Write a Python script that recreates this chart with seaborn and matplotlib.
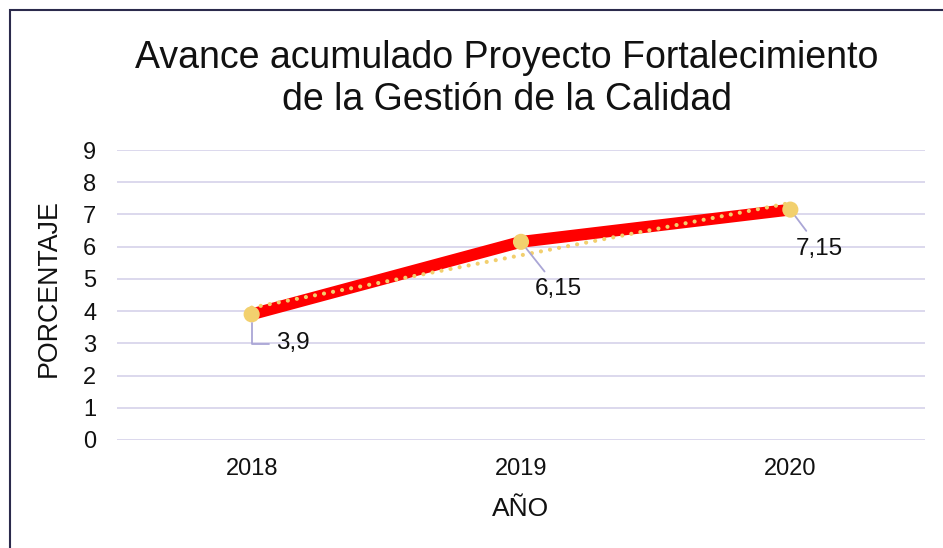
import numpy as np
import pandas as pd
import matplotlib
matplotlib.use("Agg")
import matplotlib.pyplot as plt
from matplotlib.patches import Rectangle
import seaborn as sns

# datos
anios = ["2018", "2019", "2020"]
avance = [3.9, 6.15, 7.15]
etiquetas = ["3,9", "6,15", "7,15"]
y_ticks = [0, 1, 2, 3, 4, 5, 6, 7, 8, 9]


def main():
    sns.set_style("white")
    plt.rcParams["font.family"] = ["Liberation Sans", "DejaVu Sans"]

    df = pd.DataFrame({"anio": anios, "avance": avance})

    fig = plt.figure(figsize=(9.43, 5.48), dpi=100)
    ax = fig.add_axes([117 / 943, 108 / 548, 808 / 943, 290 / 548])

    # línea de tendencia lineal
    xs = np.arange(len(anios))
    m, b = np.polyfit(xs, avance, 1)
    trend_x = np.array([xs[0], xs[-1]])

    sns.lineplot(data=df, x="anio", y="avance", ax=ax, color="#ff0000",
                 linewidth=8.5, solid_capstyle="butt", zorder=3)
    ax.plot(trend_x, m * trend_x + b, color="#f2cf6e", linewidth=3,
            linestyle=(0, (0.01, 2.2)), dash_capstyle="round", zorder=4)
    sns.scatterplot(data=df, x="anio", y="avance", ax=ax, color="#f2d06e",
                    s=135, edgecolor="none", zorder=5)

    offsets = [(30, -21), (27, -34), (21, -28)]
    for i, (val, lab) in enumerate(zip(avance, etiquetas)):
        if i == 0:
            cs = "angle,angleA=0,angleB=90,rad=0"
        else:
            cs = "arc3"
        ax.annotate(lab, xy=(i, val), xytext=offsets[i], textcoords="offset points",
                    ha="center", va="center", fontsize=17.5, color="#111111",
                    arrowprops=dict(arrowstyle="-", color="#aaa6d6", lw=1.3,
                                    connectionstyle=cs, shrinkA=3, shrinkB=6),
                    zorder=6)

    ax.set_xlim(-0.5, 2.5)
    ax.set_ylim(0, 9)
    ax.set_yticks(y_ticks)
    ax.grid(axis="y", color="#d9d6ec", linewidth=1.3)
    ax.set_axisbelow(True)
    for s in ax.spines.values():
        s.set_visible(False)
    ax.tick_params(axis="both", length=0, labelsize=17, colors="#111111")
    ax.tick_params(axis="y", pad=15)
    ax.tick_params(axis="x", pad=13)

    ax.set_xlabel("AÑO", fontsize=19, color="#111111")
    ax.set_ylabel("PORCENTAJE", fontsize=19.3, color="#111111")
    ax.xaxis.set_label_coords(0.5, (440 - 497) / 290)
    ax.yaxis.set_label_coords((62 - 117) / 808, (440 - 288) / 290)

    fig.text(507 / 943, 1 - 79 / 548,
             "Avance acumulado Proyecto Fortalecimiento\nde la Gestión de la Calidad",
             ha="center", va="center", fontsize=27, color="#111111", linespacing=1.2)

    # marco del gráfico
    fig.patches.append(Rectangle((10 / 943, -0.1), 1.2, 1 - 10 / 548 + 0.1,
                                 transform=fig.transFigure, fill=False,
                                 edgecolor="#2b2a4c", linewidth=1.5))

    fig.savefig("out.png", dpi=100)


if __name__ == "__main__":
    main()
